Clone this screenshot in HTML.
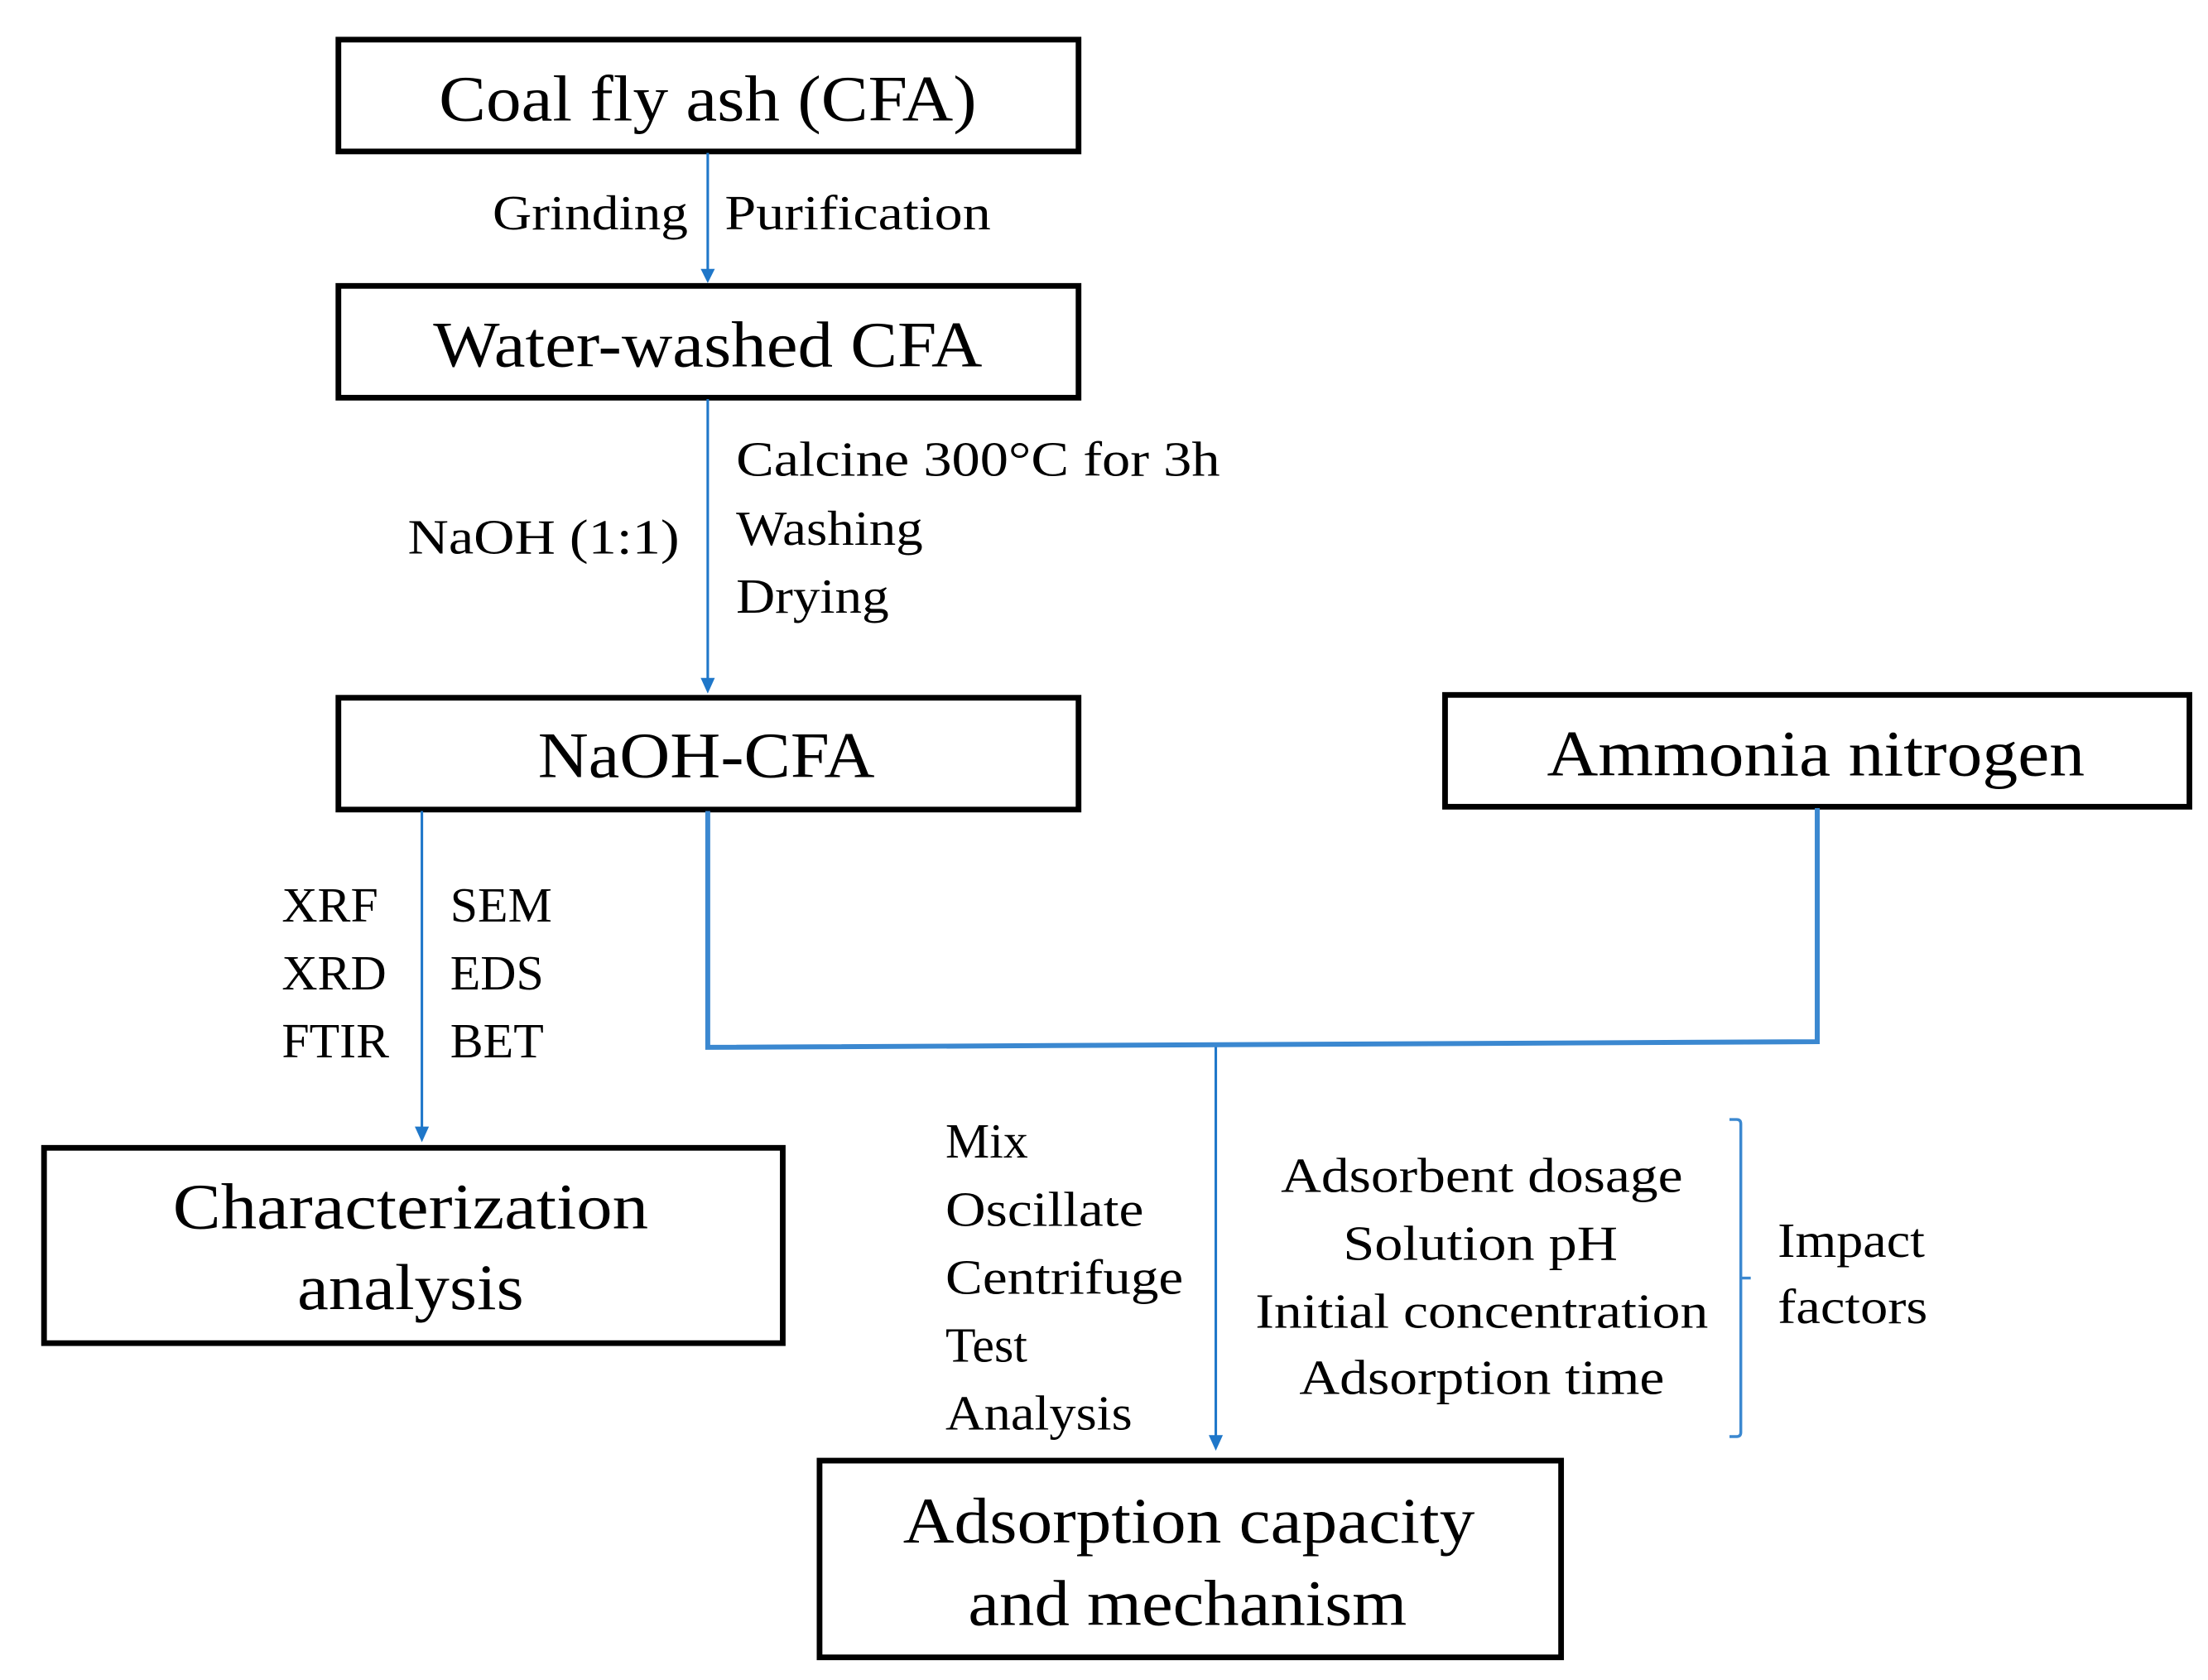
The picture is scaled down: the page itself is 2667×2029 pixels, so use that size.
<!DOCTYPE html>
<html><head><meta charset="utf-8"><style>html,body{margin:0;padding:0;background:#fff}svg{display:block}</style></head>
<body>
<svg width="2667" height="2029" viewBox="0 0 1560 1187" xmlns="http://www.w3.org/2000/svg" font-family="'Liberation Serif', serif" fill="#000">
<defs>
<marker id="ah" markerWidth="10" markerHeight="10" refX="5" refY="8" orient="0" markerUnits="userSpaceOnUse">
<path d="M0,0 L10,0 L5,9 Z" fill="#1f77c9"/>
</marker>
</defs>
<rect width="1560" height="1187" fill="#fff"/>
<g fill="none" stroke="#000" stroke-width="4">
<rect x="239" y="28" width="523" height="79"/>
<rect x="239" y="202" width="523" height="79"/>
<rect x="239" y="493" width="523" height="79"/>
<rect x="1021" y="491" width="526" height="79"/>
<rect x="31" y="811" width="522" height="138"/>
<rect x="579" y="1032" width="524" height="139"/>
</g>
<g stroke="#1f77c9" stroke-width="1.8" fill="none">
<line x1="500" y1="108" x2="500" y2="195"/>
<path d="M495,190 L505,190 L500,200 Z" fill="#1f77c9" stroke="none"/>
<line x1="500" y1="282" x2="500" y2="484"/>
<path d="M495,479 L505,479 L500,490 Z" fill="#1f77c9" stroke="none"/>
<line x1="298" y1="573" x2="298" y2="800"/>
<path d="M293,796 L303,796 L298,807 Z" fill="#1f77c9" stroke="none"/>
<line x1="859" y1="739" x2="859" y2="1018"/>
<path d="M854,1014 L864,1014 L859,1025 Z" fill="#1f77c9" stroke="none"/>
</g>
<path d="M500,573 L500,740 L1284,736 L1284,571" fill="none" stroke="#3b88d0" stroke-width="3.5"/>
<path d="M1222,791 L1227,791 Q1230,791 1230,794 L1230,903 L1237,903 M1230,903 L1230,1012 Q1230,1015 1227,1015 L1222,1015" fill="none" stroke="#3b88d0" stroke-width="2"/>
<g text-anchor="middle" font-size="46">
<text x="500" y="85" textLength="380" lengthAdjust="spacingAndGlyphs">Coal fly ash (CFA)</text>
<text x="500" y="259" textLength="388" lengthAdjust="spacingAndGlyphs">Water-washed CFA</text>
<text x="499" y="549" textLength="238" lengthAdjust="spacingAndGlyphs">NaOH-CFA</text>
<text x="1283" y="548" textLength="380" lengthAdjust="spacingAndGlyphs">Ammonia nitrogen</text>
<text x="290" y="868" textLength="336" lengthAdjust="spacingAndGlyphs">Characterization</text>
<text x="290" y="925" textLength="160" lengthAdjust="spacingAndGlyphs">analysis</text>
<text x="840" y="1090" textLength="404" lengthAdjust="spacingAndGlyphs">Adsorption capacity</text>
<text x="839" y="1148" textLength="310" lengthAdjust="spacingAndGlyphs">and mechanism</text>
</g>
<g font-size="35">
<text x="486" y="162" text-anchor="end" textLength="138" lengthAdjust="spacingAndGlyphs">Grinding</text>
<text x="512" y="162" textLength="188" lengthAdjust="spacingAndGlyphs">Purification</text>
<text x="520" y="336" textLength="342" lengthAdjust="spacingAndGlyphs">Calcine  300°C for 3h</text>
<text x="520" y="385" textLength="132" lengthAdjust="spacingAndGlyphs">Washing</text>
<text x="520" y="433" textLength="108" lengthAdjust="spacingAndGlyphs">Drying</text>
<text x="288" y="391" textLength="192" lengthAdjust="spacingAndGlyphs">NaOH (1:1)</text>
<text x="199" y="651">XRF</text>
<text x="199" y="699">XRD</text>
<text x="199" y="747">FTIR</text>
<text x="318" y="651">SEM</text>
<text x="318" y="699">EDS</text>
<text x="318" y="747">BET</text>
<text x="668" y="818">Mix</text>
<text x="668" y="866" textLength="140" lengthAdjust="spacingAndGlyphs">Oscillate</text>
<text x="668" y="914" textLength="168" lengthAdjust="spacingAndGlyphs">Centrifuge</text>
<text x="668" y="962">Test</text>
<text x="668" y="1010" textLength="132" lengthAdjust="spacingAndGlyphs">Analysis</text>
<g text-anchor="middle">
<text x="1047" y="842" textLength="284" lengthAdjust="spacingAndGlyphs">Adsorbent  dosage</text>
<text x="1046" y="890" textLength="194" lengthAdjust="spacingAndGlyphs">Solution pH</text>
<text x="1047" y="938" textLength="320" lengthAdjust="spacingAndGlyphs">Initial  concentration</text>
<text x="1047" y="985" textLength="258" lengthAdjust="spacingAndGlyphs">Adsorption  time</text>
</g>
<text x="1256" y="888" textLength="104" lengthAdjust="spacingAndGlyphs">Impact</text>
<text x="1256" y="935" textLength="106" lengthAdjust="spacingAndGlyphs">factors</text>
</g>
</svg>
</body></html>
